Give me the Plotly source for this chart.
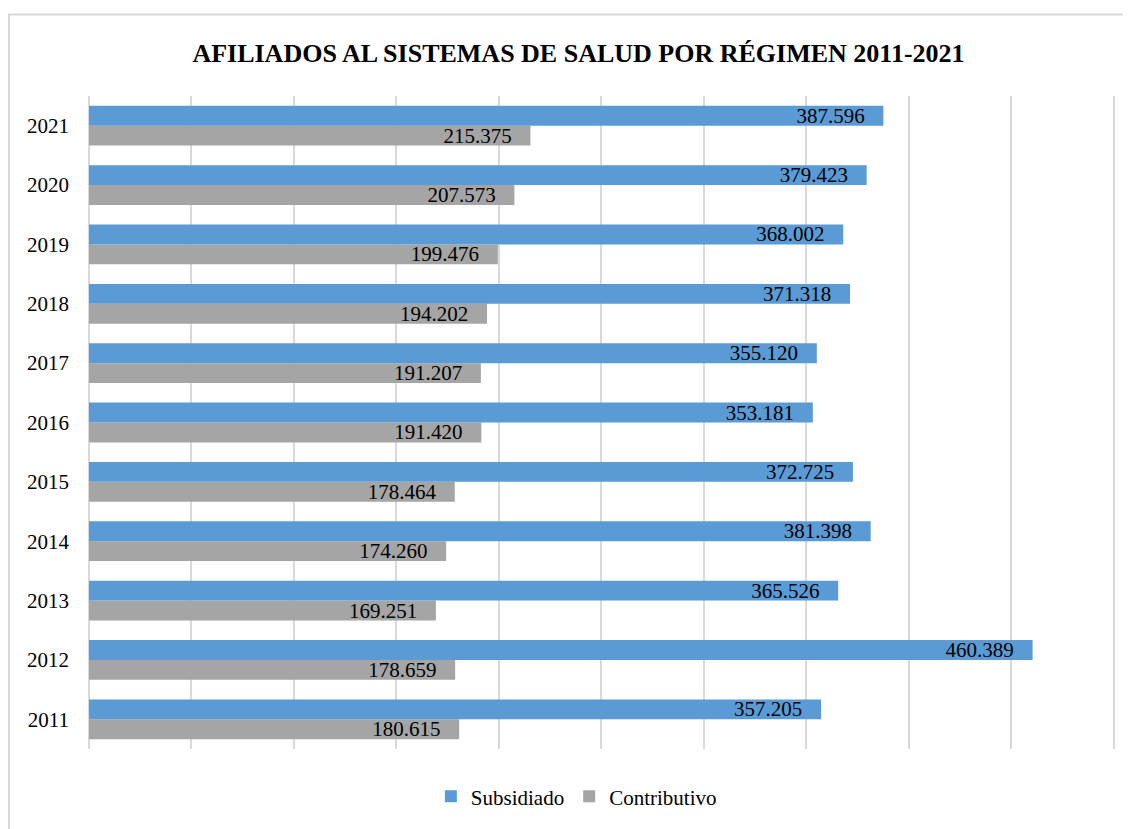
import plotly.graph_objects as go

years = ["2011", "2012", "2013", "2014", "2015", "2016", "2017", "2018", "2019", "2020", "2021"]
subsidiado = [357205, 460389, 365526, 381398, 372725, 353181, 355120, 371318, 368002, 379423, 387596]
contributivo = [180615, 178659, 169251, 174260, 178464, 191420, 191207, 194202, 199476, 207573, 215375]

FONT = "Liberation Serif, Times New Roman, serif"
PAD = "\u00a0\u00a0\u00a0"

fig = go.Figure()
fig.add_trace(go.Bar(
    y=years, x=contributivo, orientation="h", name="Contributivo",
    marker=dict(color="#a5a5a5", line=dict(width=0)),
    texttemplate="%{x:,}" + PAD, textposition="inside", insidetextanchor="end",
    constraintext="none", cliponaxis=False,
    textfont=dict(family=FONT, size=21, color="black"),
    legendrank=2, hoverinfo="x+name",
))
fig.add_trace(go.Bar(
    y=years, x=subsidiado, orientation="h", name="Subsidiado",
    marker=dict(color="#5b9bd5", line=dict(width=0)),
    texttemplate="%{x:,}" + PAD, textposition="inside", insidetextanchor="end",
    constraintext="none", cliponaxis=False,
    textfont=dict(family=FONT, size=21, color="black"),
    legendrank=1, hoverinfo="x+name",
))

fig.update_layout(
    width=1123, height=821,
    margin=dict(l=81, r=16, t=88, b=77),
    paper_bgcolor="white", plot_bgcolor="white",
    separators=",.",
    barmode="group", bargap=0.33, bargroupgap=0,
    font=dict(family=FONT, size=21, color="black"),
    title=dict(text="<b>AFILIADOS AL SISTEMAS DE SALUD POR RÉGIMEN 2011-2021</b>",
               x=0.508, xanchor="center", y=0.9455, yanchor="middle",
               font=dict(family=FONT, size=26, color="black")),
    xaxis=dict(range=[0, 500600], tick0=0, dtick=50000, showticklabels=False,
               showgrid=True, gridcolor="#d9d9d9", gridwidth=2,
               zeroline=True, zerolinecolor="#d9d9d9", zerolinewidth=2,
               showline=False, fixedrange=True),
    yaxis=dict(type="category", categoryorder="array", categoryarray=years,
               showgrid=False, showline=False, zeroline=False,
               ticklabelstandoff=19,
               tickfont=dict(family=FONT, size=21, color="black")),
    legend=dict(orientation="h", x=0.475, xanchor="center", y=-0.073, yanchor="middle",
                font=dict(family=FONT, size=21, color="black"),
                itemwidth=30, traceorder="normal"),
    showlegend=True,
    shapes=[dict(type="rect", xref="paper", yref="paper",
                 x0=-0.078, x1=1.2, y0=-0.6, y1=1.125,
                 line=dict(color="#d9d9d9", width=2), fillcolor="rgba(0,0,0,0)",
                 layer="below")],
)

fig.write_html("out.html")
